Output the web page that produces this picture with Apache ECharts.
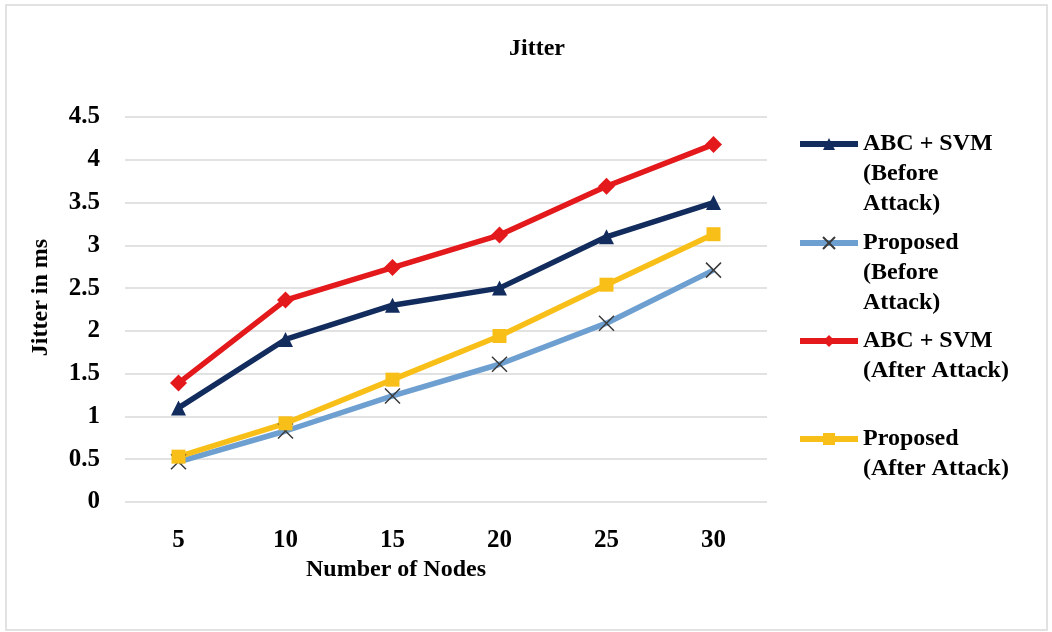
<!DOCTYPE html>
<html>
<head>
<meta charset="utf-8">
<script src="https://cdn.jsdelivr.net/npm/echarts@6/dist/echarts.min.js"></script>
<style>
  html, body { margin: 0; padding: 0; background: #fff; }
  #main { width: 1052px; height: 632px; }
</style>
</head>
<body>
<div id="main"></div>
<script>
const nodes = ['5', '10', '15', '20', '25', '30'];
const abcBefore = [1.1, 1.9, 2.3, 2.5, 3.1, 3.5];
const proposedBefore = [0.47, 0.83, 1.24, 1.61, 2.09, 2.71];
const abcAfter = [1.39, 2.36, 2.74, 3.12, 3.69, 4.18];
const proposedAfter = [0.53, 0.92, 1.43, 1.94, 2.54, 3.13];

const seriesNames = [
	'ABC + SVM (Before Attack)',
	'Proposed (Before Attack)',
	'ABC + SVM (After Attack)',
	'Proposed (After Attack)'
];
const legendLines = [
	'ABC + SVM\n(Before\nAttack)',
	'Proposed\n(Before\nAttack)',
	'ABC + SVM\n(After Attack)',
	'Proposed\n(After Attack)'
];
const legendIconY = [144, 243, 341, 439];

const font = "'Times New Roman', 'Liberation Serif', serif";
const lh = 30;

const myChart = echarts.init(document.getElementById('main'));

// one legend per item; blank lines on top keep the icon level with the first text line
const legends = seriesNames.map((name, i) => {
	const lines = legendLines[i].split('\n').length;
	const text = '\n'.repeat(lines - 1) + legendLines[i];
	return {
		data: [name],
		left: 797,
		top: legendIconY[i] - ((2 * lines - 1) * lh) / 2,
		orient: 'vertical',
		padding: 0,
		itemWidth: 58,
		itemHeight: 15,
		selectedMode: false,
		formatter: () => text,
		lineStyle: { width: 6 },
		textStyle: {
			fontFamily: font,
			fontWeight: 'bold',
			fontSize: 24,
			color: '#000',
			lineHeight: lh
		}
	};
});

const option = {
	animation: false,
	backgroundColor: '#fff',
	title: {
		text: 'Jitter',
		left: 532,
		top: 32,
		textAlign: 'center',
		textStyle: { fontFamily: font, fontWeight: 'bold', fontSize: 24, color: '#000' }
	},
	graphic: [
		{
			type: 'rect',
			shape: { x: 6, y: 5, width: 1041, height: 625 },
			style: { fill: 'none', stroke: '#d9d9d9', lineWidth: 1.5 },
			silent: true
		}
	],
	legend: legends,
	grid: { left: 125, right: 285, top: 117, bottom: 130 },
	xAxis: {
		type: 'category',
		data: nodes,
		name: 'Number of Nodes',
		nameLocation: 'middle',
		nameGap: 55,
		nameTextStyle: {
			fontFamily: font, fontWeight: 'bold', fontSize: 24, color: '#000',
			padding: [0, 100, 0, 0]
		},
		axisLine: { show: false },
		axisTick: { show: false },
		axisLabel: { margin: 26, fontFamily: font, fontWeight: 'bold', fontSize: 25, color: '#000' }
	},
	yAxis: {
		type: 'value',
		min: 0,
		max: 4.5,
		interval: 0.5,
		name: 'Jitter in ms',
		nameLocation: 'middle',
		nameGap: 72,
		nameTextStyle: {
			fontFamily: font, fontWeight: 'bold', fontSize: 24, color: '#000',
			padding: [0, 0, 0, 24]
		},
		axisLine: { show: false },
		axisTick: { show: false },
		axisLabel: { margin: 25, fontFamily: font, fontWeight: 'bold', fontSize: 25, color: '#000' },
		splitLine: { lineStyle: { color: '#d9d9d9', width: 1.5 } }
	},
	series: [
		{
			name: seriesNames[0],
			type: 'line',
			data: abcBefore,
			symbol: 'triangle',
			symbolSize: 15,
			lineStyle: { color: '#132c5e', width: 5.5 },
			itemStyle: { color: '#132c5e' }
		},
		{
			name: seriesNames[1],
			type: 'line',
			data: proposedBefore,
			symbol: 'path://M0,0L10,10M10,0L0,10',
			symbolSize: 15,
			lineStyle: { color: '#6d9fd0', width: 5.5 },
			itemStyle: { color: '#6d9fd0', borderColor: '#3a3a3a', borderWidth: 1.5 }
		},
		{
			name: seriesNames[2],
			type: 'line',
			data: abcAfter,
			symbol: 'diamond',
			symbolSize: 17,
			lineStyle: { color: '#e3191c', width: 5.5 },
			itemStyle: { color: '#e3191c' }
		},
		{
			name: seriesNames[3],
			type: 'line',
			data: proposedAfter,
			symbol: 'rect',
			symbolSize: 14,
			lineStyle: { color: '#f9bf19', width: 5.5 },
			itemStyle: { color: '#f9bf19' }
		}
	]
};
myChart.setOption(option);
</script>
</body>
</html>
